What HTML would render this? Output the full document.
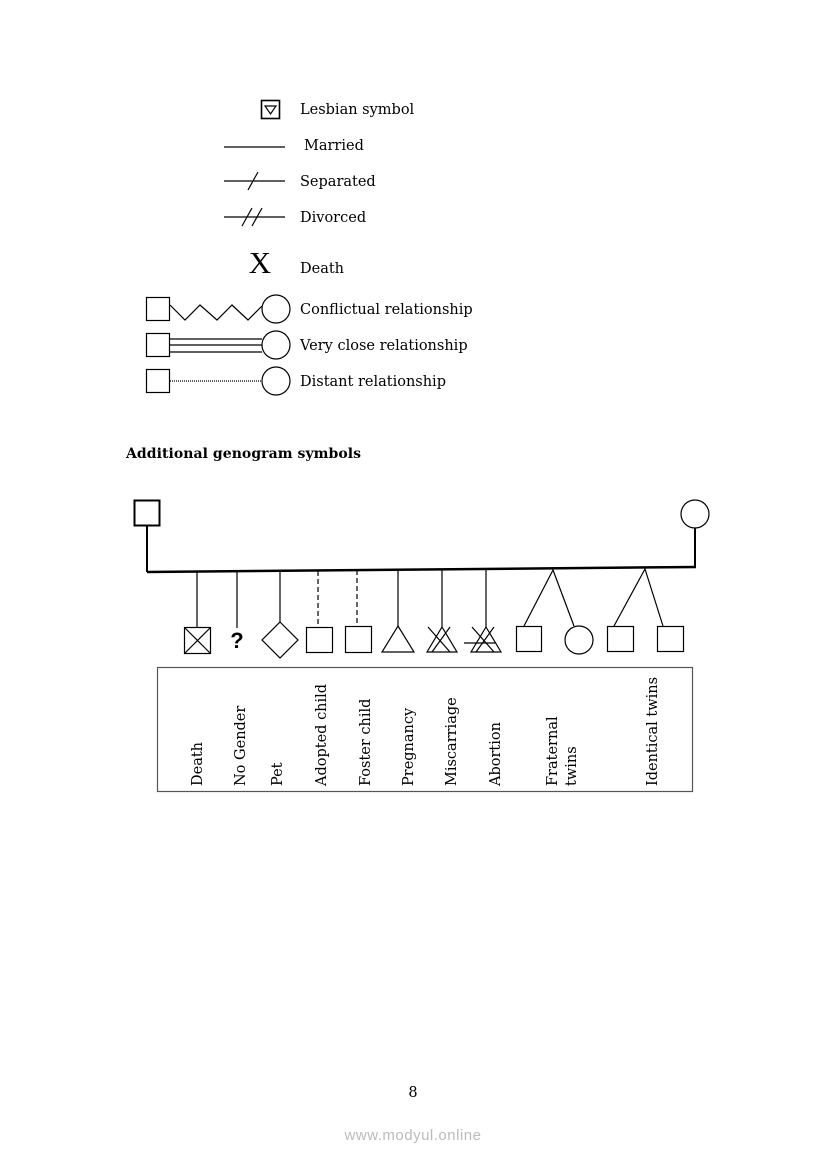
<!DOCTYPE html>
<html><head><meta charset="utf-8"><style>
html,body{margin:0;padding:0;background:#fff}
svg{display:block}
text{font-family:"DejaVu Serif","Liberation Serif",serif;font-size:14.5px;fill:#000}
</style></head><body>
<svg width="826" height="1169" viewBox="0 0 826 1169" xmlns="http://www.w3.org/2000/svg">
<g stroke="#000" fill="none" stroke-width="1.2">
<rect x="261.5" y="100.5" width="18" height="18" stroke-width="1.6"/>
<polygon points="265,106 276,106 270.5,114"/>
<line x1="224" y1="147" x2="285" y2="147"/>
<line x1="224" y1="181" x2="285" y2="181"/>
<line x1="248" y1="190" x2="258" y2="172"/>
<line x1="224" y1="217" x2="285" y2="217"/>
<line x1="242" y1="226" x2="252" y2="208"/>
<line x1="252" y1="226" x2="262" y2="208"/>
<rect x="146.5" y="297.5" width="23" height="23"/>
<polyline points="170,305 185,320 200,305 217,320 232,305 248,320 262,306"/>
<circle cx="276" cy="309" r="14"/>
<rect x="146.5" y="333.5" width="23" height="23"/>
<line x1="170" y1="339" x2="262" y2="339"/>
<line x1="170" y1="345" x2="262" y2="345"/>
<line x1="170" y1="352" x2="262" y2="352"/>
<circle cx="276" cy="345" r="14"/>
<rect x="146.5" y="369.5" width="23" height="23"/>
<line x1="170" y1="381" x2="262" y2="381" stroke-dasharray="1,1"/>
<circle cx="276" cy="381" r="14"/>
<rect x="134.5" y="500.5" width="25" height="25" stroke-width="2"/>
<line x1="147" y1="526" x2="147" y2="572" stroke-width="2"/>
<circle cx="695" cy="514" r="14"/>
<line x1="695" y1="528" x2="695" y2="568" stroke-width="2"/>
<line x1="147" y1="572" x2="696" y2="567" stroke-width="2.5"/>
<line x1="197" y1="572" x2="197" y2="627"/>
<rect x="184.5" y="627.5" width="26" height="26"/>
<line x1="185" y1="628" x2="210" y2="653"/><line x1="210" y1="628" x2="185" y2="653"/>
<line x1="237" y1="571" x2="237" y2="628"/>
<line x1="280" y1="571" x2="280" y2="622"/>
<polygon points="280,622 298,640 280,658 262,640"/>
<line x1="318" y1="571" x2="318" y2="627" stroke-dasharray="5,3"/>
<rect x="306.5" y="627.5" width="26" height="25"/>
<line x1="357" y1="570" x2="357" y2="627" stroke-dasharray="5,3"/>
<rect x="345.5" y="626.5" width="26" height="26"/>
<line x1="398" y1="570" x2="398" y2="626"/>
<polygon points="398,626 414,652 382,652"/>
<line x1="442" y1="570" x2="442" y2="627"/>
<polygon points="442,627 457,652 427,652"/>
<line x1="428" y1="627" x2="450" y2="652"/><line x1="450" y1="627" x2="432" y2="652"/>
<line x1="486" y1="569" x2="486" y2="627"/>
<polygon points="486,627 501,652 471,652"/>
<line x1="472" y1="627" x2="494" y2="652"/><line x1="494" y1="627" x2="476" y2="652"/>
<line x1="464" y1="643" x2="495" y2="643"/>
<polyline points="524,626 553,570 574,626"/>
<rect x="516.5" y="626.5" width="25" height="25"/>
<circle cx="579" cy="640" r="14"/>
<polyline points="614,626 645,569 663,626"/>
<rect x="607.5" y="626.5" width="26" height="25"/>
<rect x="657.5" y="626.5" width="26" height="25"/>
<rect x="157.5" y="667.5" width="535" height="124" stroke="#555"/>
</g>
<text x="237" y="648" text-anchor="middle" style="font-family:'Liberation Sans',sans-serif;font-weight:bold;font-size:22px">?</text>
<text x="300" y="114">Lesbian symbol</text>
<text x="304" y="150">Married</text>
<text x="300" y="186">Separated</text>
<text x="300" y="222">Divorced</text>
<text x="260" y="273" text-anchor="middle" style="font-size:31px;font-family:'Liberation Serif',serif">X</text>
<text x="300" y="273">Death</text>
<text x="300" y="314">Conflictual relationship</text>
<text x="300" y="350">Very close relationship</text>
<text x="300" y="386">Distant relationship</text>
<text x="126" y="458" style="font-weight:bold;font-size:14px" textLength="235">Additional genogram symbols</text>
<g>
<text transform="translate(202,786) rotate(-90)">Death</text>
<text transform="translate(245,786) rotate(-90)">No Gender</text>
<text transform="translate(282,786) rotate(-90)">Pet</text>
<text transform="translate(326,786) rotate(-90)">Adopted child</text>
<text transform="translate(370,786) rotate(-90)">Foster child</text>
<text transform="translate(413,786) rotate(-90)">Pregnancy</text>
<text transform="translate(456,786) rotate(-90)">Miscarriage</text>
<text transform="translate(500,786) rotate(-90)">Abortion</text>
<text transform="translate(557,786) rotate(-90)">Fraternal</text>
<text transform="translate(576,786) rotate(-90)">twins</text>
<text transform="translate(657,786) rotate(-90)">Identical twins</text>
</g>
<text x="413" y="1097" text-anchor="middle">8</text>
<text x="413" y="1140" text-anchor="middle" style="font-family:'Liberation Sans',sans-serif;font-size:15px;fill:#bbb;letter-spacing:0.5px">www.modyul.online</text>
</svg>
</body></html>
